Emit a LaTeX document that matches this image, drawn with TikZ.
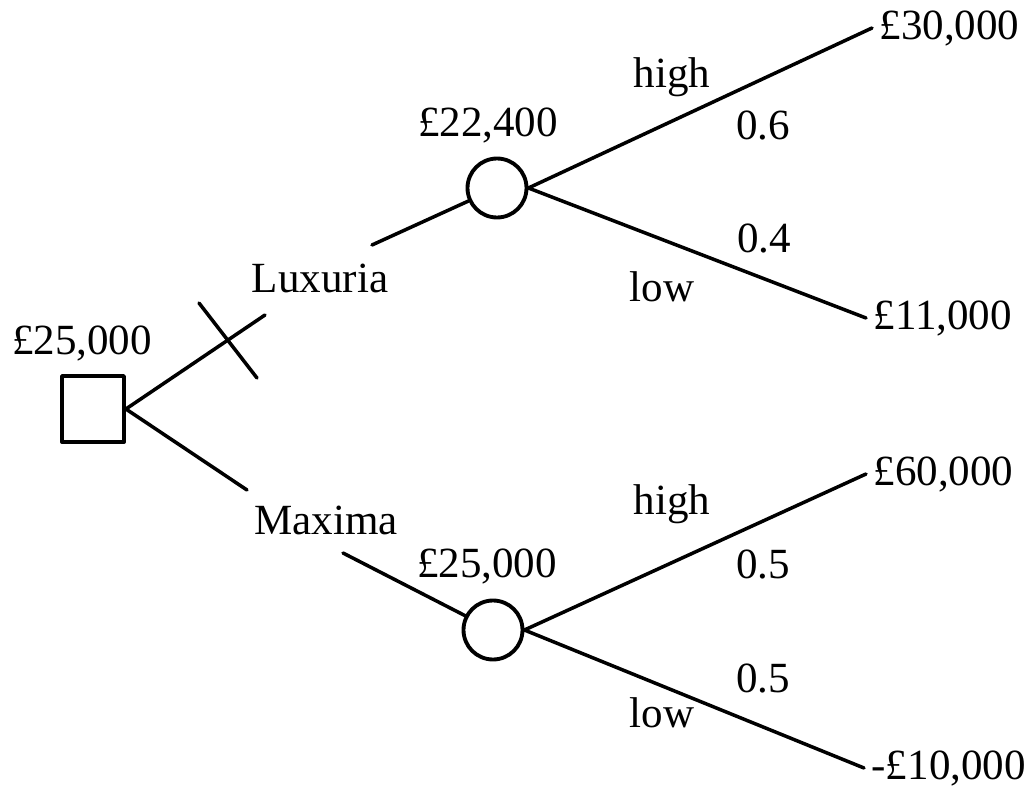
\documentclass[tikz,border=0pt]{standalone}
\usepackage{fontspec}
\setmainfont{Liberation Serif}
\begin{document}
\begin{tikzpicture}[
		x=0.02cm,y=-0.02cm,line join = round,line cap = round,line width=2pt,
		font=\fontsize{24.5}{29}\selectfont,
		decbox/.style={rectangle,draw,line width=2.2pt,minimum width=1.24cm,minimum height=1.32cm,inner sep=0pt},
		chance/.style={circle,draw,line width=2.2pt,minimum size=1.18cm,inner sep=0pt},
		lbl/.style={inner sep=0pt},
		payoff/.style={anchor=west}]
	\useasboundingbox (0,0) rectangle (1035,791);
	\node at (93,409) (dec) [decbox] {};
	\node at (82,343) (decval) [lbl] {£25,000};
	\node at (320,278) (lux) [lbl] {Luxuria};
	\node at (326,520) (max) [lbl] {Maxima};
	\node at (497,188) (c1) [chance] {};
	\node at (493,630) (c2) [chance] {};
	\node at (488,125) (c1val) [lbl] {£22,400};
	\node at (487,566) (c2val) [lbl] {£25,000};
	\node at (872,28) (e1) [payoff] {£30,000};
	\node at (866,318) (e2) [payoff] {£11,000};
	\node at (866,474) (e3) [payoff] {£60,000};
	\node at (864,768) (e4) [payoff] {-£10,000};
	\node at (672,77) (hi1) [lbl] {high};
	\node at (763,125) (p1) [lbl] {0.6};
	\node at (764,238) (p2) [lbl] {0.4};
	\node at (662,287) (lo1) [lbl] {low};
	\node at (672,504) (hi2) [lbl] {high};
	\node at (763,564) (p3) [lbl] {0.5};
	\node at (763,678) (p4) [lbl] {0.5};
	\node at (662,713) (lo2) [lbl] {low};
	\coordinate (luxin) at (265,315);
	\coordinate (luxout) at (372,245);
	\coordinate (maxin) at (247,490);
	\coordinate (maxout) at (343,553);
	\coordinate (xa) at (199,303);
	\coordinate (xb) at (257,378);
	\draw (dec.east) -- (luxin);
	\draw (xa) -- (xb);
	\draw (luxout) -- (c1);
	\draw (dec.east) -- (maxin);
	\draw (maxout) -- (c2);
	\draw (c1.east) -- (e1.west);
	\draw (c1.east) -- (e2.west);
	\draw (c2.east) -- (e3.west);
	\draw (c2.east) -- (e4.west);
\end{tikzpicture}
\end{document}
